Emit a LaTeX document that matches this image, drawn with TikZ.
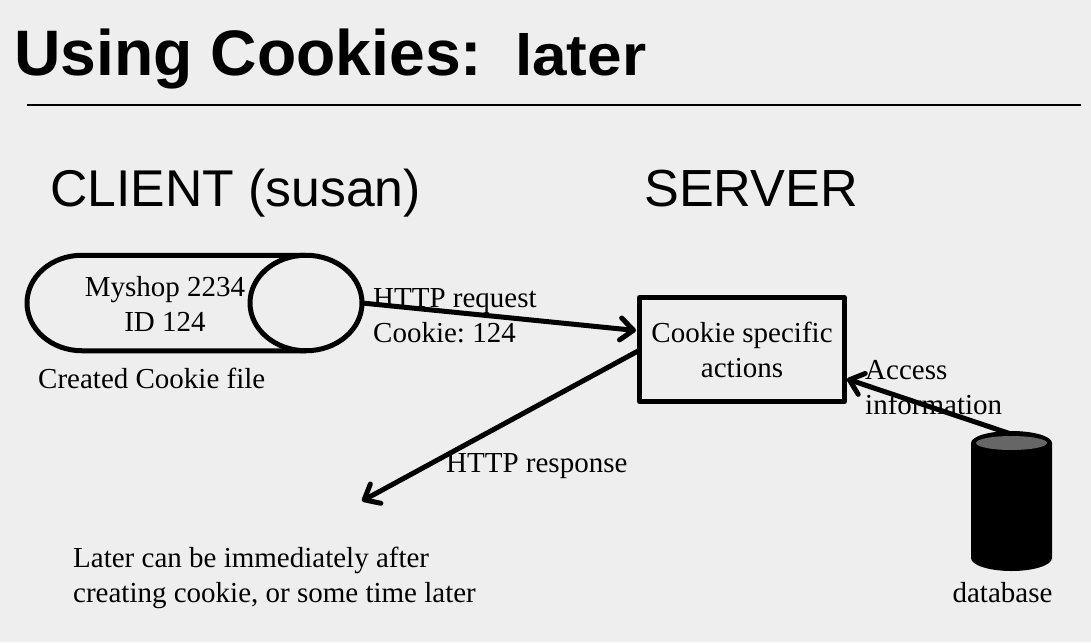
\documentclass[tikz,border=0pt]{standalone}
\usepackage{fontspec}
\usepackage{graphicx}
\setmainfont{Liberation Serif}
\newfontfamily\hel{Liberation Sans}
\usetikzlibrary{arrows.meta}
\definecolor{bg}{HTML}{EEEEEE}
\definecolor{dbtop}{HTML}{666666}
\frenchspacing
\tikzset{
 px/.style={x=1pt,y=-1pt},
 lab/.style={font=\fontsize{29}{35}\selectfont,inner sep=0pt,anchor=west,align=left},
 clab/.style={font=\fontsize{29}{35}\selectfont,inner sep=0pt,align=center},
 thick3/.style={line width=5pt,draw=black,line join=round},
 arr/.style={thick3,-{Straight Barb[round,length=13pt,width=22pt,line width=5pt]}},
 head/.style={font=\hel\fontsize{51.7}{60}\selectfont,inner sep=0pt,anchor=west},
}
\begin{document}
\begin{tikzpicture}[px]
\useasboundingbox (0,0) rectangle (1091,642);
\fill[bg] (0,0) rectangle (1091,642);
\node[inner sep=0pt,anchor=west,font=\hel\bfseries\fontsize{64.3}{70}\selectfont] (title) at (14,59) {Using Cookies:};
\node[inner sep=0pt,anchor=west,font=\hel\bfseries\fontsize{58}{60}\selectfont] (later) at (515,54.5) {\scalebox{1.07}[1]{later}};
\coordinate (ruleL) at (27,104.5); \coordinate (ruleR) at (1081,104.5);
\draw[line width=2pt] (ruleL) -- (ruleR);
\node[head,text height=37pt,text depth=10pt] (client) at (50,193) {CLIENT (susan)};
\node[head,font=\hel\fontsize{52.2}{60}\selectfont,text height=37pt,text depth=10pt] (server) at (644,193) {SERVER};
% cookie cylinder
\draw[thick3] (82,255.25) -- (306,255.25) arc[start angle=-90,end angle=90,x radius=56,y radius=47.75] -- (82,350.75) arc[start angle=90,end angle=270,x radius=55,y radius=47.75] -- cycle;
\draw[thick3] (306,255.25) arc[start angle=-90,end angle=-270,x radius=56,y radius=47.75];
\coordinate (cyl) at (362,303);
\node[clab] (myshop) at (165,303.5) {Myshop 2234\\ID 124};
\node[lab] (cfile) at (38,378) {Created Cookie file};
\node[lab] (req) at (373,315.5) {HTTP request\\Cookie: 124};
\node[draw,line width=5pt,line join=round,minimum width=205pt,minimum height=104pt,inner sep=0pt,clab] (box) at (742,349.5) {Cookie specific\\actions};
\coordinate (reqE) at (636,330.5);
\draw[arr] (cyl) -- (reqE);
\coordinate (respS) at (638,351); \coordinate (respE) at (362,501);
\draw[arr] (respS) -- (respE);
\node[lab] (resp) at (446,466) {HTTP response};
\node[lab] (later2) at (73,577.5) {Later can be immediately after\\creating cookie, or some time later};
\node[lab] (access) at (865,388) {Access\\information};
% database
\fill[black] (971,443) arc[start angle=180,end angle=360,x radius=40.5,y radius=12] -- (1052,558) arc[start angle=0,end angle=180,x radius=40.5,y radius=13] -- cycle;
\fill[dbtop] (1011.5,443) ellipse[x radius=35.5,y radius=7];
\coordinate (dbT) at (1011,434);
\coordinate (boxE) at (847,379);
\draw[arr] (dbT) -- (boxE);
\node[clab] (dbl) at (1002.5,593) {database};
\end{tikzpicture}
\end{document}
